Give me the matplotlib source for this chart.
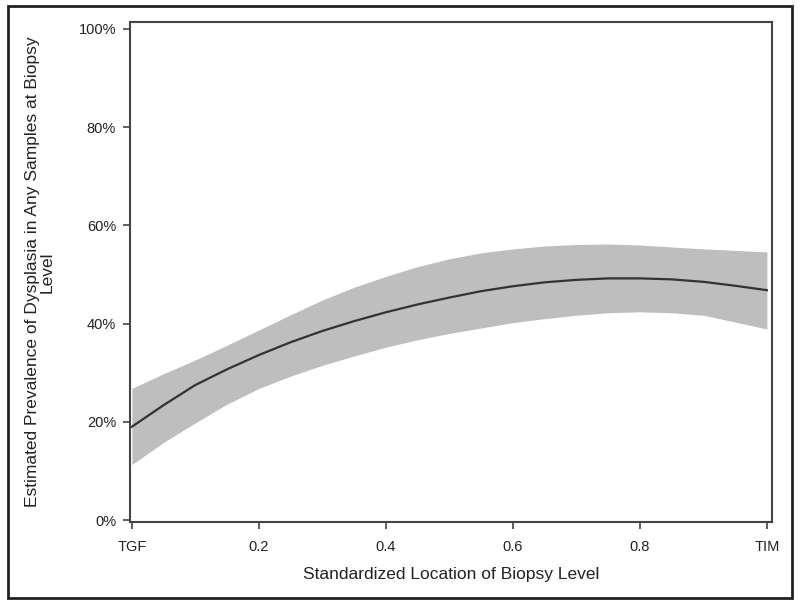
import numpy as np
import matplotlib.pyplot as plt
from matplotlib.patches import Rectangle
from matplotlib.ticker import FuncFormatter

# data (prevalence in %)
location = [0.0, 0.05, 0.1, 0.15, 0.2, 0.25, 0.3, 0.35, 0.4, 0.45, 0.5,
            0.55, 0.6, 0.65, 0.7, 0.75, 0.8, 0.85, 0.9, 0.95, 1.0]
estimate = [19.0, 23.4, 27.5, 30.7, 33.6, 36.2, 38.5, 40.5, 42.3, 43.9, 45.3,
            46.6, 47.6, 48.4, 48.9, 49.2, 49.2, 49.0, 48.5, 47.7, 46.8]
upper = [26.8, 29.8, 32.6, 35.6, 38.7, 41.8, 44.8, 47.4, 49.6, 51.6, 53.2,
         54.4, 55.2, 55.8, 56.1, 56.2, 56.0, 55.6, 55.2, 54.9, 54.6]
lower = [11.3, 15.8, 19.8, 23.6, 26.8, 29.3, 31.5, 33.4, 35.2, 36.7, 38.0,
         39.1, 40.2, 41.0, 41.7, 42.2, 42.4, 42.2, 41.7, 40.3, 38.9]

x_ticks = [0, 0.2, 0.4, 0.6, 0.8, 1.0]
x_ticklabels = ['TGF', '0.2', '0.4', '0.6', '0.8', 'TIM']
y_ticks = [0, 20, 40, 60, 80, 100]

plt.rcParams['font.family'] = ['Liberation Sans', 'DejaVu Sans']

fig = plt.figure(figsize=(8, 6.03), dpi=100)
ax = fig.add_axes([130/800, 1 - 522/603, 642/800, 500/603])

ax.fill_between(location, lower, upper, color='#bebebe', linewidth=0)
ax.plot(location, estimate, color='#333333', linewidth=1.6)

ax.set_xlim(-0.003, 1.008)
ax.set_ylim(-0.4, 101.4)
ax.set_xticks(x_ticks)
ax.set_xticklabels(x_ticklabels)
ax.set_yticks(y_ticks)
ax.yaxis.set_major_formatter(FuncFormatter(lambda v, p: f'{v:.0f}%'))

for s in ax.spines.values():
    s.set_color('#444444')
    s.set_linewidth(1.5)
ax.tick_params(direction='out', length=5, width=1.2, color='#444444',
               labelsize=10.5, labelcolor='#222222')
ax.tick_params(axis='x', pad=8)
ax.tick_params(axis='y', pad=5)

ax.set_xlabel('Standardized Location of Biopsy Level', fontsize=12.5,
              color='#222222', labelpad=9)
ax.set_ylabel('Estimated Prevalence of Dysplasia in Any Samples at Biopsy\nLevel',
              fontsize=12.5, color='#222222', labelpad=17, linespacing=1.0)

# outer frame around the whole picture
fig.patches.append(Rectangle((8/800, 5/603), 784/800, 592/603, transform=fig.transFigure,
                             fill=False, edgecolor='#222222', linewidth=2))

fig.savefig('out.png', dpi=100)
